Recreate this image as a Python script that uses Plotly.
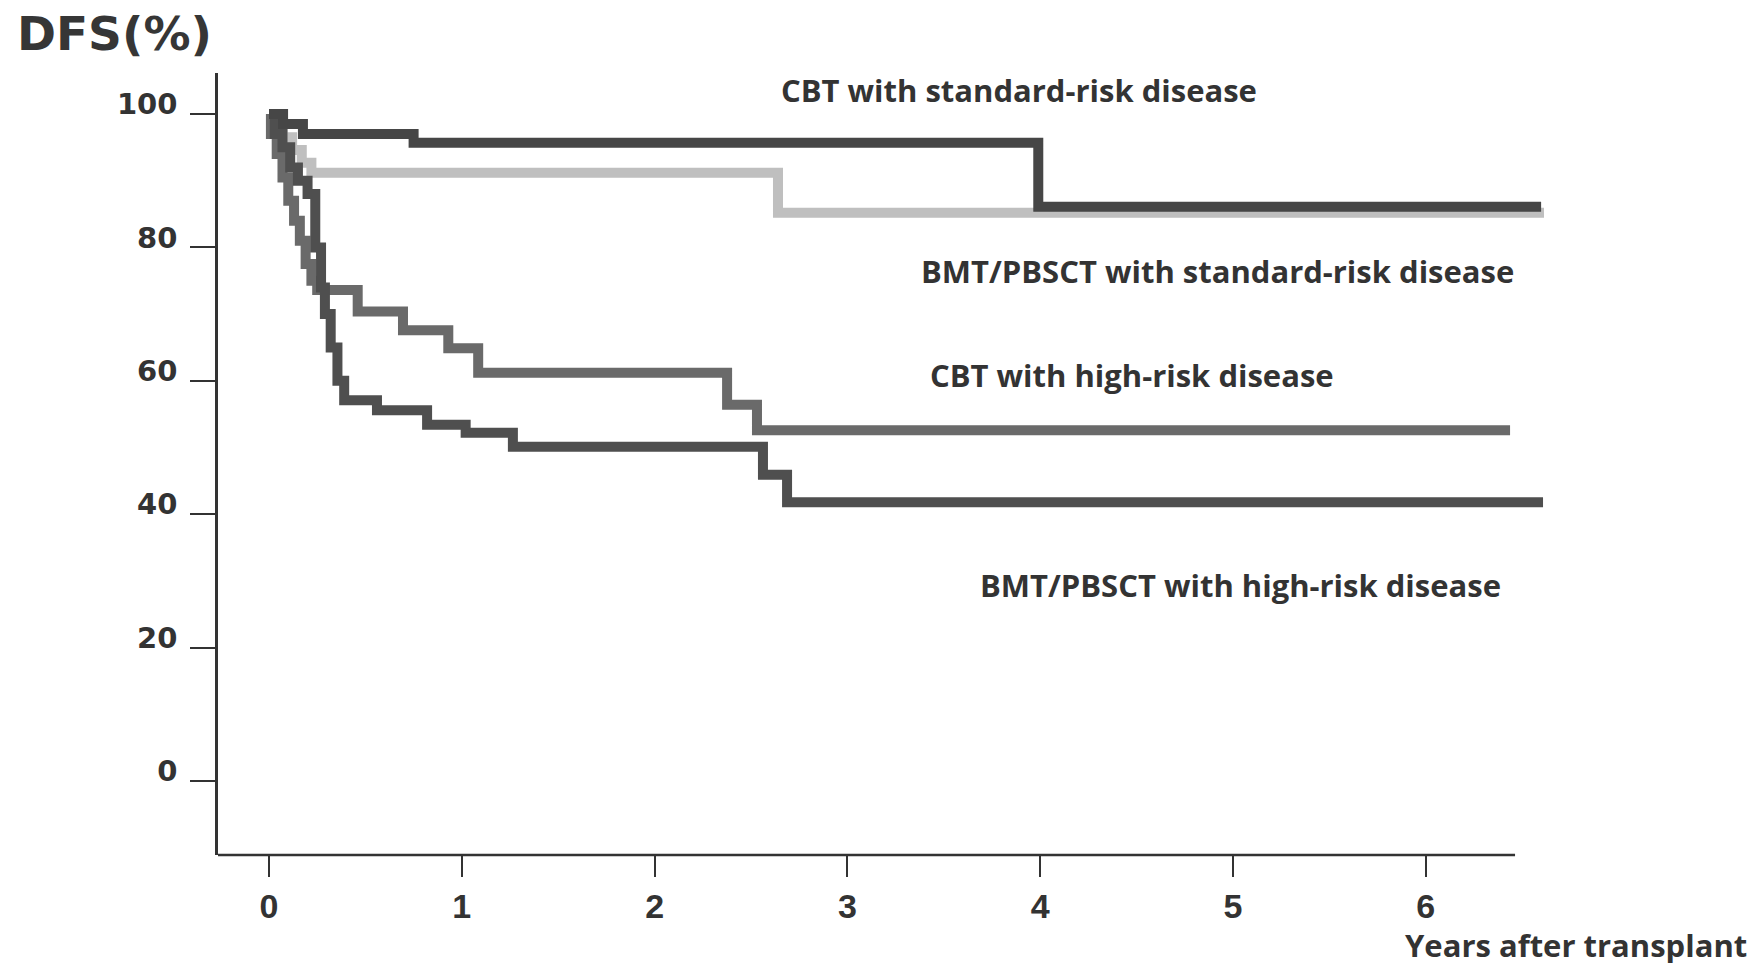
import plotly.graph_objects as go

# ---- data ----
years_ticks = [0, 1, 2, 3, 4, 5, 6]
dfs_ticks = [0, 20, 40, 60, 80, 100]

cbt_std_x = [0, 0.073, 0.176, 0.75, 3.99, 6.598]
cbt_std_y = [100, 98.5, 97.0, 95.7, 86.1, 86.1]

bmt_std_x = [0, 0.02, 0.07, 0.12, 0.17, 0.22, 2.64, 6.613]
bmt_std_y = [100, 98.4, 96.5, 94.6, 92.7, 91.2, 85.2, 85.2]

cbt_high_x = [0, 0.01, 0.04, 0.07, 0.10, 0.13, 0.16, 0.19, 0.22, 0.25, 0.46, 0.695, 0.93, 1.085, 2.376, 2.531, 6.437]
cbt_high_y = [100, 97, 94, 90.5, 87, 84, 81, 77.5, 75, 73.6, 70.4, 67.6, 64.9, 61.2, 56.4, 52.6, 52.6]

bmt_high_x = [0, 0.03, 0.07, 0.11, 0.15, 0.20, 0.24, 0.27, 0.29, 0.32, 0.355, 0.39, 0.56, 0.82, 1.02, 1.265, 2.562, 2.687, 6.608]
bmt_high_y = [100, 97, 95, 92, 90, 88, 80, 74, 70, 65, 60, 57.1, 55.6, 53.4, 52.2, 50.1, 45.9, 41.8, 41.8]

labels = ["CBT with standard-risk disease",
          "BMT/PBSCT with standard-risk disease",
          "CBT with high-risk disease",
          "BMT/PBSCT with high-risk disease"]
label_x = [3.89, 4.917, 4.476, 5.041]
label_y = [103.6, 76.5, 60.9, 29.4]

y_title = "DFS(%)"
x_title = "Years after transplant"

# ---- figure ----
fig = go.Figure()
series = [
    (bmt_std_x, bmt_std_y, "#bfbfbf", "BMT/PBSCT standard"),
    (cbt_high_x, cbt_high_y, "#6a6a6a", "CBT high"),
    (bmt_high_x, bmt_high_y, "#4f4f4f", "BMT/PBSCT high"),
    (cbt_std_x, cbt_std_y, "#464646", "CBT standard"),
]
for xs, ys, col, name in series:
    fig.add_trace(go.Scatter(x=xs, y=ys, mode="lines", name=name,
                             line=dict(color=col, width=10, shape="hv"),
                             hoverinfo="skip"))

label_font = dict(family="Open Sans", size=31, color="#333333")
for t, lx, ly in zip(labels, label_x, label_y):
    fig.add_annotation(x=lx, y=ly, xref="x", yref="y", text="<b>%s</b>" % t,
                       showarrow=False, xanchor="center", yanchor="middle",
                       font=label_font)

fig.add_annotation(x=1.012, y=-0.115, xref="paper", yref="paper",
                   text="<b>%s</b>" % x_title, showarrow=False,
                   xanchor="center", yanchor="middle", font=label_font)
fig.add_annotation(x=-0.1515, y=1.050, xref="paper", yref="paper",
                   text="<b>%s</b>" % y_title, showarrow=False,
                   xanchor="left", yanchor="middle",
                   font=dict(family="DejaVu Sans", size=47, color="#363636"))

# x axis line (shorter than the plotting area, as in the reference)
fig.add_shape(type="line", xref="x domain", yref="y domain",
              x0=0, x1=0.9665, y0=0, y1=0,
              line=dict(color="#333333", width=2.5))

# page body has an 8px margin: plot area placed so that it lands at page
# x 218..1560, y 73..855
fig.update_layout(
    width=1757, height=963,
    margin=dict(l=210, r=205, t=65, b=116),
    paper_bgcolor="white", plot_bgcolor="white",
    showlegend=False,
)
fig.update_xaxes(range=[-0.2645, 6.696], tickvals=years_ticks,
                 ticktext=[str(v) for v in years_ticks],
                 showgrid=False, zeroline=False, showline=False,
                 ticks="outside", ticklen=21, tickwidth=2, tickcolor="#333333",
                 ticklabelstandoff=0,
                 tickfont=dict(family="Liberation Sans", size=34, color="#333333", weight="bold"))
fig.update_yaxes(range=[-11.09, 106.15], tickvals=dfs_ticks,
                 ticktext=[str(v) for v in dfs_ticks],
                 showgrid=False, zeroline=False, showline=True,
                 linecolor="#333333", linewidth=2.5,
                 ticks="outside", ticklen=25, tickwidth=2, tickcolor="#333333",
                 ticklabelstandoff=7, ticklabelshift=-10,
                 tickfont=dict(family="DejaVu Sans", size=29, color="#333333", weight="bold"))

fig.write_html("out.html")
